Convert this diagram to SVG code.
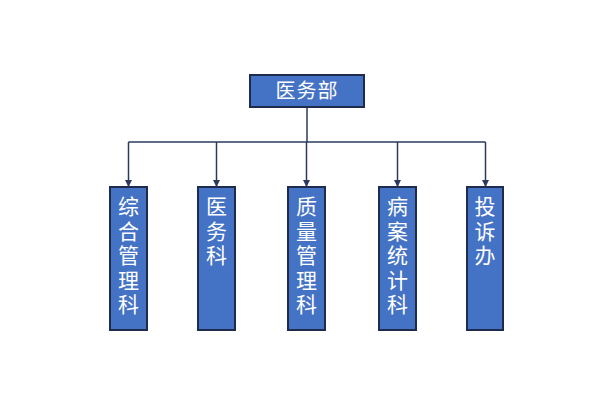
<svg xmlns="http://www.w3.org/2000/svg" width="600" height="401" viewBox="0 0 600 401">
<defs>
<style>
.box{fill:#4472C4;stroke:#1E2B4A;stroke-width:2}
.t{fill:#FFFFFF;font-family:"Noto Sans CJK SC","Noto Sans",sans-serif;font-size:20px;text-anchor:middle}
.v{fill:#FFFFFF;font-family:"Noto Sans CJK SC","Noto Sans",sans-serif;font-size:21px;writing-mode:vertical-rl;text-orientation:upright;letter-spacing:3.5px}
.ln{fill:none;stroke:#2B3A5C;stroke-width:1.5}
</style>
<marker id="ah" viewBox="0 0 10 10" refX="10" refY="5" markerWidth="5" markerHeight="5" orient="auto">
<path d="M0,0 L10,5 L0,10 z" fill="#2B3A5C"/>
</marker>
</defs>
<rect width="600" height="401" fill="#FFFFFF"/>
<g id="connectors">
<path class="ln" d="M307,107 V142"/>
<path class="ln" d="M128.5,142 H485.5"/>
<path class="ln" d="M128.5,142 V187" marker-end="url(#ah)"/>
<path class="ln" d="M216.5,142 V187" marker-end="url(#ah)"/>
<path class="ln" d="M306.5,142 V187" marker-end="url(#ah)"/>
<path class="ln" d="M397.5,142 V187" marker-end="url(#ah)"/>
<path class="ln" d="M485.5,142 V187" marker-end="url(#ah)"/>
</g>
<g id="n0">
<rect class="box" x="250" y="75" width="114" height="32"/>
<text class="t" x="307" y="98" letter-spacing="1">医务部</text>
</g>
<g id="n1">
<rect class="box" x="110" y="187" width="37" height="143"/>
<text class="v" x="128.5" y="196">综合管理科</text>
</g>
<g id="n2">
<rect class="box" x="198" y="187" width="37" height="143"/>
<text class="v" x="216.5" y="196">医务科</text>
</g>
<g id="n3">
<rect class="box" x="288" y="187" width="37" height="143"/>
<text class="v" x="306.5" y="196">质量管理科</text>
</g>
<g id="n4">
<rect class="box" x="379" y="187" width="37" height="143"/>
<text class="v" x="397.5" y="196">病案统计科</text>
</g>
<g id="n5">
<rect class="box" x="467" y="187" width="36" height="143"/>
<text class="v" x="485" y="196">投诉办</text>
</g>
</svg>
